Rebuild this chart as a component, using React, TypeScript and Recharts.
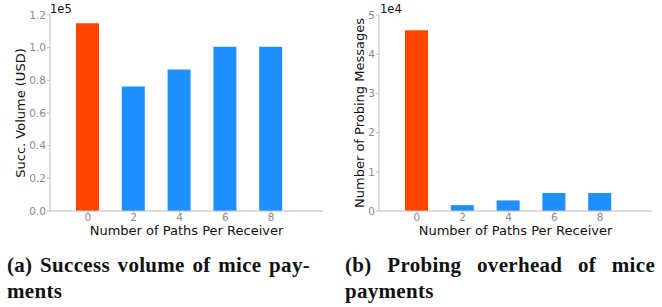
import React from 'react';
import { BarChart, Bar, XAxis, YAxis, Cell } from 'recharts';

const categories = ['0', '2', '4', '6', '8'];
const volumeValues = [115000, 76200, 86600, 100600, 100600];
const probingValues = [46100, 1500, 2700, 4600, 4600];
const volumeTicks = [0, 20000, 40000, 60000, 80000, 100000, 120000];
const probingTicks = [0, 10000, 20000, 30000, 40000, 50000];
const barColors = ['#FF4500', '#1E90FF', '#1E90FF', '#1E90FF', '#1E90FF'];

const xLabel = 'Number of Paths Per Receiver';
const volumeLabel = 'Succ. Volume (USD)';
const probingLabel = 'Number of Probing Messages';
const captionA1 = '(a) Success volume of mice pay-';
const captionA2 = 'ments';
const captionB1 = '(b) Probing overhead of mice';
const captionB2 = 'payments';

const FONT = '"DejaVu Sans", sans-serif';
const AXIS = '#bdbdbd';
const TICK = '#8a8a8a';

const volumeData = categories.map((c, i) => ({ name: c, value: volumeValues[i] }));
const probingData = categories.map((c, i) => ({ name: c, value: probingValues[i] }));

function Panel(props: {
  data: { name: string; value: number }[];
  ticks: number[];
  max: number;
  fmt: (v: number) => string;
  yLabel: string;
  yAxisWidth: number;
  labelDx: number;
  right: number;
}) {
  const { data, ticks, max, fmt, yLabel, yAxisWidth, labelDx, right } = props;
  return (
    <BarChart
      width={331}
      height={240}
      data={data}
      margin={{ top: 15, right, bottom: 0, left: 0 }}
      barCategoryGap={0}
    >
      <XAxis
        dataKey="name"
        height={29}
        padding={{ left: 15, right: 29 }}
        stroke={AXIS}
        tickSize={2}
        tickMargin={1}
        tick={{ fill: TICK, fontSize: 10.5, fontFamily: FONT }}
        label={{
          value: xLabel,
          position: 'insideBottom',
          offset: 5,
          fill: '#111',
          fontSize: 13,
          fontFamily: FONT,
        }}
      />
      <YAxis
        type="number"
        domain={[0, max]}
        ticks={ticks}
        tickFormatter={fmt}
        width={yAxisWidth}
        stroke={AXIS}
        tickSize={3}
        tickMargin={1}
        interval={0}
        tick={{ fill: TICK, fontSize: 10.5, fontFamily: FONT }}
        label={{
          value: yLabel,
          angle: -90,
          position: 'center',
          dx: labelDx,
          fill: '#111',
          fontSize: 13,
          fontFamily: FONT,
        }}
      />
      <Bar dataKey="value" barSize={23} isAnimationActive={false}>
        {data.map((d, i) => (
          <Cell key={d.name} fill={barColors[i]} />
        ))}
      </Bar>
    </BarChart>
  );
}

const capStyle: React.CSSProperties = {
  fontFamily: '"Liberation Serif", serif',
  fontWeight: 'bold',
  fontSize: 21,
  letterSpacing: 0.3,
  lineHeight: '26px',
  color: '#111',
  position: 'absolute',
  top: 252,
};

export default function App() {
  return (
    <div
      style={{
        position: 'absolute',
        left: 0,
        top: 0,
        width: 662,
        height: 307,
        background: '#fff',
        overflow: 'hidden',
      }}
    >
      <div style={{ position: 'absolute', left: 0, top: 0 }}>
        <Panel
          data={volumeData}
          ticks={volumeTicks}
          max={120000}
          fmt={(v) => (v / 1e5).toFixed(1)}
          yLabel={volumeLabel}
          yAxisWidth={50}
          labelDx={-5}
          right={8}
        />
      </div>
      <div style={{ position: 'absolute', left: 331, top: 0 }}>
        <Panel
          data={probingData}
          ticks={probingTicks}
          max={50000}
          fmt={(v) => String(v / 1e4)}
          yLabel={probingLabel}
          yAxisWidth={48}
          labelDx={4}
          right={10}
        />
      </div>
      <div
        style={{
          position: 'absolute',
          left: 50,
          top: 2,
          fontFamily: FONT,
          fontSize: 11.5,
          color: '#111',
        }}
      >
        1e5
      </div>
      <div
        style={{
          position: 'absolute',
          left: 380,
          top: 2,
          fontFamily: FONT,
          fontSize: 11.5,
          color: '#111',
        }}
      >
        1e4
      </div>
      <div style={{ ...capStyle, left: 7, width: 303 }}>
        <div style={{ textAlign: 'justify', textAlignLast: 'justify', whiteSpace: 'nowrap' }}>{captionA1}</div>
        <div>{captionA2}</div>
      </div>
      <div style={{ ...capStyle, left: 345, width: 310 }}>
        <div style={{ textAlign: 'justify', textAlignLast: 'justify', whiteSpace: 'nowrap' }}>{captionB1}</div>
        <div>{captionB2}</div>
      </div>
    </div>
  );
}
